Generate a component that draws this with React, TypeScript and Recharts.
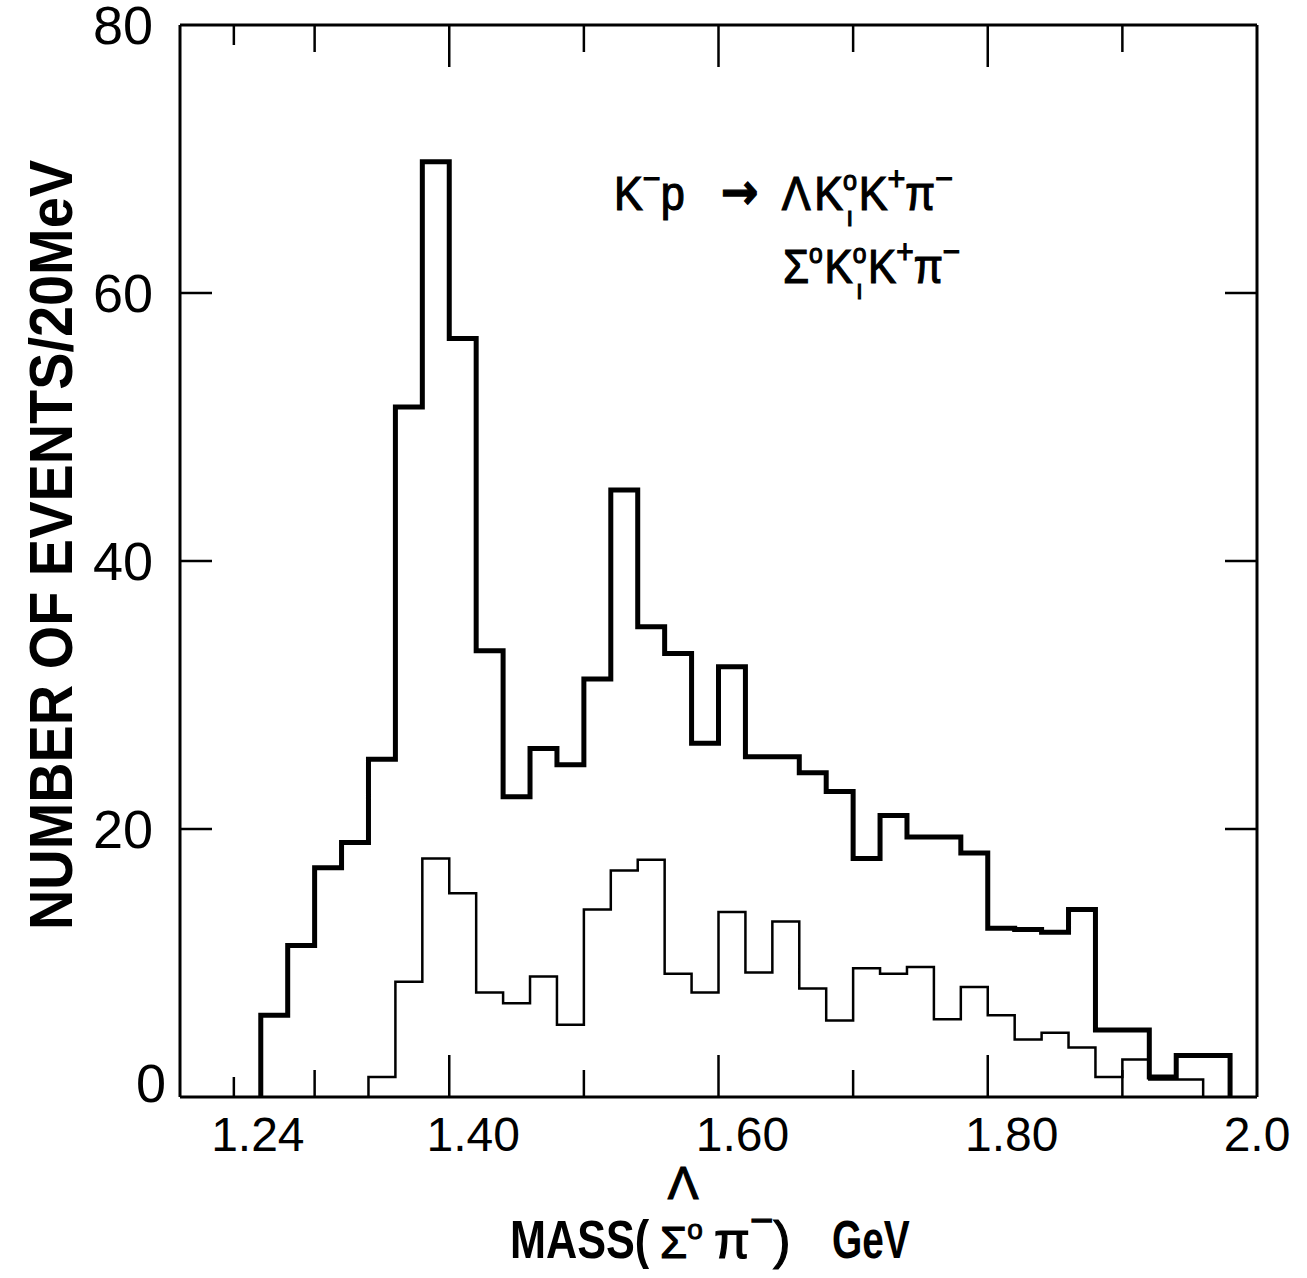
import React from 'react';
import { ComposedChart, Line, XAxis, YAxis } from 'recharts';

// Lower edges (GeV) of the 20 MeV bins, full sample (heavy line)
const totalBinLow = [
  1.26, 1.28, 1.30, 1.32, 1.34, 1.36, 1.38, 1.40, 1.42, 1.44, 1.46, 1.48,
  1.50, 1.52, 1.54, 1.56, 1.58, 1.60, 1.62, 1.64, 1.66, 1.68, 1.70, 1.72,
  1.74, 1.76, 1.78, 1.80, 1.82, 1.84, 1.86, 1.88, 1.90, 1.92, 1.94, 1.96,
];
const totalEvents = [
  6.1, 11.3, 17.1, 19.0, 25.2, 51.5, 69.8, 56.6, 33.3, 22.4, 26.0, 24.8,
  31.2, 45.3, 35.1, 33.1, 26.4, 32.1, 25.4, 25.4, 24.2, 22.8, 17.8, 21.0,
  19.4, 19.4, 18.2, 12.6, 12.5, 12.3, 14.0, 5.0, 5.0, 1.5, 3.1, 3.1,
];

// Lower edges of bins, sub-sample (light line)
const subBinLow = [
  1.34, 1.36, 1.38, 1.40, 1.42, 1.44, 1.46, 1.48, 1.50, 1.52, 1.54, 1.56,
  1.58, 1.60, 1.62, 1.64, 1.66, 1.68, 1.70, 1.72, 1.74, 1.76, 1.78, 1.80,
  1.82, 1.84, 1.86, 1.88, 1.90, 1.92, 1.94,
];
const subEvents = [
  1.5, 8.6, 17.8, 15.2, 7.8, 7.0, 9.0, 5.4, 14.0, 16.9, 17.7, 9.2,
  7.8, 13.8, 9.3, 13.1, 8.1, 5.7, 9.6, 9.2, 9.7, 5.8, 8.2, 6.1,
  4.3, 4.8, 3.7, 1.5, 2.8, 1.3, 1.3,
];

const BIN_WIDTH = 0.02;
const xDomain = [1.2, 2.0];
const yDomain = [0, 80];
const xTicks = [1.24, 1.3, 1.4, 1.5, 1.6, 1.7, 1.8, 1.9, 2.0];
const xTickLabels = ['1.24', '', '1.40', '', '1.60', '', '1.80', '', '2.0'];
const yTicks = [0, 20, 40, 60, 80];
const yTickLabels = ['0', '20', '40', '60', '80'];

function stepData(lows: number[], vals: number[]) {
  const pts: { x: number; y: number }[] = [{ x: lows[0], y: 0 }];
  lows.forEach((lo, i) => pts.push({ x: lo, y: vals[i] }));
  pts.push({ x: lows[lows.length - 1] + BIN_WIDTH, y: 0 });
  return pts;
}

const totalData = stepData(totalBinLow, totalEvents);
const subData = stepData(subBinLow, subEvents);

const FONT = '"Liberation Sans", Arial, sans-serif';

function xTickLen(v: number) {
  if (Math.abs(v - 2.0) < 1e-6) return 0;
  if (Math.abs(v - 1.24) < 1e-6) return 20;
  const r = Math.round(v * 10);
  return r % 2 === 0 ? 42 : 27;
}

const BottomTick = (props: any) => {
  const { x, y, payload, index } = props;
  const v = payload.value;
  const label = xTickLabels[index] ?? '';
  const isLast = Math.abs(v - 2.0) < 1e-6;
  return (
    <g>
      <line x1={x} x2={x} y1={y} y2={y - xTickLen(v)} stroke="#000" strokeWidth={2.5} />
      {label && (
        <text
          x={x + (isLast ? 0 : 24)}
          y={y + 54}
          textAnchor="middle"
          fontFamily={FONT}
          fontSize={48}
          fill="#000"
        >
          {label}
        </text>
      )}
    </g>
  );
};

const TopTick = (props: any) => {
  const { x, y, payload } = props;
  return <line x1={x} x2={x} y1={y} y2={y + xTickLen(payload.value)} stroke="#000" strokeWidth={2.5} />;
};

const yTickLen = (v: number) => (v === 0 || v === 80 ? 0 : 32);

const LeftTick = (props: any) => {
  const { x, y, payload, index } = props;
  const v = payload.value;
  const label = yTickLabels[index] ?? '';
  const dy = v === 0 ? -14 : 0;
  return (
    <g>
      <line x1={x} x2={x + yTickLen(v)} y1={y} y2={y} stroke="#000" strokeWidth={2.5} />
      <text
        x={x - (v === 0 ? 14 : 27)}
        y={y + dy + 19}
        textAnchor="end"
        fontFamily={FONT}
        fontSize={54}
        fill="#000"
      >
        {label}
      </text>
    </g>
  );
};

const RightTick = (props: any) => {
  const { x, y, payload } = props;
  return <line x1={x} x2={x - yTickLen(payload.value)} y1={y} y2={y} stroke="#000" strokeWidth={2.5} />;
};

export default function App() {
  return (
    <div style={{ position: 'absolute', left: 0, top: 0, width: 1307, height: 1278, background: '#fff' }}>
      <ComposedChart
        width={1307}
        height={1278}
        margin={{ top: 20, right: 30, bottom: 121, left: 120 }}
      >
        <XAxis
          xAxisId="bottom"
          dataKey="x"
          type="number"
          domain={xDomain}
          ticks={xTicks}
          allowDataOverflow
          orientation="bottom"
          height={60}
          tickSize={0}
          tickMargin={0}
          tickLine={false}
          axisLine={{ stroke: '#000', strokeWidth: 3 }}
          tick={<BottomTick />}
          interval={0}
        />
        <XAxis
          xAxisId="top"
          dataKey="x"
          type="number"
          domain={xDomain}
          ticks={xTicks}
          allowDataOverflow
          orientation="top"
          height={5}
          tickSize={0}
          tickMargin={0}
          tickLine={false}
          axisLine={{ stroke: '#000', strokeWidth: 3 }}
          tick={<TopTick />}
          interval={0}
        />
        <YAxis
          yAxisId="left"
          type="number"
          domain={yDomain}
          ticks={yTicks}
          allowDataOverflow
          orientation="left"
          width={60}
          tickSize={0}
          tickMargin={0}
          tickLine={false}
          axisLine={{ stroke: '#000', strokeWidth: 3 }}
          tick={<LeftTick />}
          interval={0}
        />
        <YAxis
          yAxisId="right"
          type="number"
          domain={yDomain}
          ticks={yTicks}
          allowDataOverflow
          orientation="right"
          width={20}
          tickSize={0}
          tickMargin={0}
          tickLine={false}
          axisLine={{ stroke: '#000', strokeWidth: 3 }}
          tick={<RightTick />}
          interval={0}
        />
        <Line
          xAxisId="bottom"
          yAxisId="left"
          data={subData}
          dataKey="y"
          type="stepAfter"
          stroke="#000"
          strokeWidth={2.5}
          dot={false}
          activeDot={false}
          isAnimationActive={false}
          strokeLinejoin="miter"
        />
        <Line
          xAxisId="bottom"
          yAxisId="left"
          data={totalData}
          dataKey="y"
          type="stepAfter"
          stroke="#000"
          strokeWidth={5}
          dot={false}
          activeDot={false}
          isAnimationActive={false}
          strokeLinejoin="miter"
        />
      </ComposedChart>
      <svg
        width={1307}
        height={1278}
        style={{ position: 'absolute', left: 0, top: 0, pointerEvents: 'none' }}
      >
        <text
          x={72}
          y={545}
          transform="rotate(-90 72 545)"
          textAnchor="middle"
          fontFamily={FONT}
          fontWeight="bold"
          fontSize={62}
          textLength={770}
          lengthAdjust="spacingAndGlyphs"
          fill="#000"
        >
          NUMBER OF EVENTS/20MeV
        </text>
        <g fontFamily={FONT} fill="#000">
          <g transform="translate(510 1258) scale(0.8 1)">
            <text x={0} y={0} fontSize={54} fontWeight="bold">MASS(</text>
          </g>
          <text x={683} y={1199} fontSize={46} textAnchor="middle" stroke="#000" strokeWidth={1.2}>Λ</text>
          <text x={660} y={1258} fontSize={44} stroke="#000" strokeWidth={1.2}>
            Σ<tspan fontSize={28} dy={-19} strokeWidth={1}>o</tspan>
          </text>
          <text x={714} y={1258} fontSize={52} stroke="#000" strokeWidth={1.2}>
            π<tspan fontSize={40} dy={-24}>−</tspan><tspan dy={24}>)</tspan>
          </text>
          <g transform="translate(832 1258) scale(0.72 1)">
            <text x={0} y={0} fontSize={54} fontWeight="bold">GeV</text>
          </g>
        </g>
        <g fontFamily={FONT} fill="#000" stroke="#000" strokeWidth={1.2} fontSize={48}>
          <g transform="translate(614 210) scale(0.9 1)">
            <text x={0} y={0}>
              K<tspan fontSize={34} dy={-20}>−</tspan>
              <tspan dy={20}>p</tspan>
              <tspan dx={40} fontFamily='"DejaVu Sans", sans-serif' fontSize={50} fontWeight="bold" dy={-1}>→</tspan>
              <tspan dx={26} dy={1}>Λ</tspan>
              <tspan dx={4}>K</tspan>
              <tspan fontSize={28} dy={-20}>o</tspan>
              <tspan fontSize={28} dx={-12} dy={36}>ı</tspan>
              <tspan dx={6} dy={-16}>K</tspan>
              <tspan fontSize={34} dy={-20}>+</tspan>
              <tspan dy={20}>π</tspan>
              <tspan fontSize={34} dy={-20}>−</tspan>
            </text>
          </g>
          <g transform="translate(783 283) scale(0.88 1)">
            <text x={0} y={0}>
              Σ<tspan fontSize={28} dy={-20}>o</tspan>
              <tspan dx={2} dy={20}>K</tspan>
              <tspan fontSize={28} dy={-20}>o</tspan>
              <tspan fontSize={28} dx={-12} dy={36}>ı</tspan>
              <tspan dx={6} dy={-16}>K</tspan>
              <tspan fontSize={34} dy={-20}>+</tspan>
              <tspan dy={20}>π</tspan>
              <tspan fontSize={34} dy={-20}>−</tspan>
            </text>
          </g>
        </g>
      </svg>
    </div>
  );
}
